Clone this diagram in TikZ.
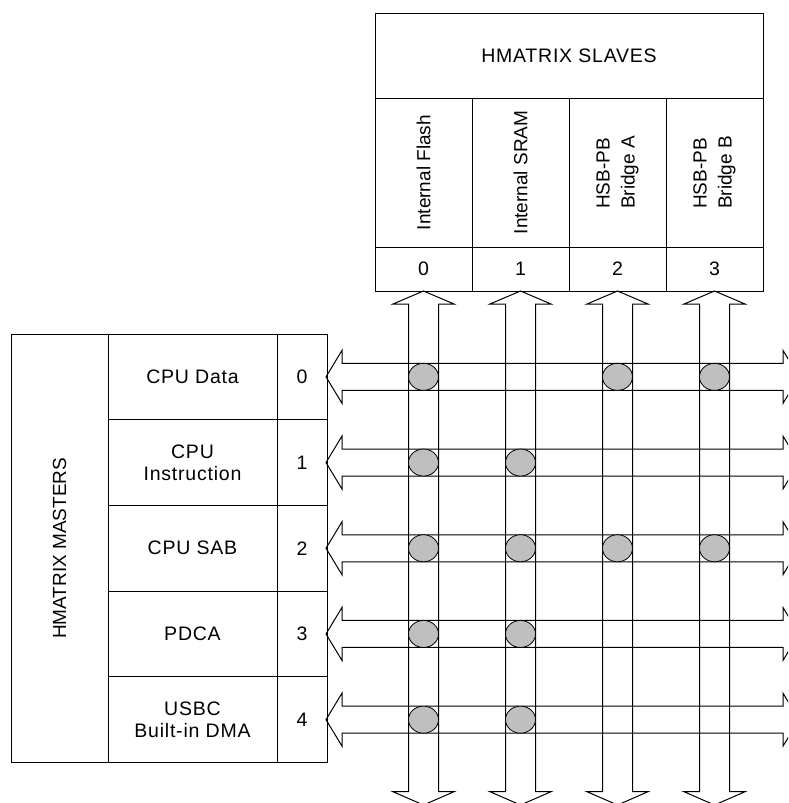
\documentclass[tikz,border=0pt]{standalone}
\usepackage{fontspec}
\setmainfont[LetterSpace=4]{Liberation Sans}
\newfontfamily\vertfont{Liberation Sans}
\begin{document}
\begin{tikzpicture}[x=1pt,y=-1pt,
  every node/.style={font=\fontsize{19.5}{22.5}\selectfont, inner sep=0pt, outer sep=0pt},
  box/.style={draw, line width=1pt},
  rtext/.style={rotate=90, align=left, font=\vertfont\fontsize{19}{25}\selectfont},
  ctext/.style={align=center},
  bus/.style={draw, line width=1pt, line join=miter},
  hit/.style={draw, line width=0.8pt, fill=black!25}
]
\useasboundingbox (0,0) rectangle (788,803);
\clip (0,0) rectangle (788,803);

% ---------- slaves ----------
\node[box, minimum width=388pt, minimum height=85pt] (shdr) at (569,55.5) {};
\node (shdrt) at (shdr) {HMATRIX SLAVES};
\foreach \i/\lab in {0/{Internal Flash},1/{Internal SRAM},2/{HSB-PB\\Bridge A},3/{HSB-PB\\Bridge B}} {
  \node[box, minimum width=97pt, minimum height=149pt] (s\i) at ({423.5+97*\i},172.5) {};
  \node[rtext] (s\i t) at (s\i) {\lab};
  \node[box, minimum width=97pt, minimum height=44pt] (s\i n) at ({423.5+97*\i},269) {\i};
}

% ---------- masters ----------
\node[box, minimum width=97pt, minimum height=428.5pt] (mlab) at (59.5,548.25) {};
\node[rtext] (mlabt) at (mlab) {HMATRIX MASTERS};
\foreach \j/\lab in {0/{CPU Data},1/{CPU\\Instruction},2/{CPU SAB},3/{PDCA},4/{USBC\\Built-in DMA}} {
  \node[box, minimum width=169pt, minimum height=85.7pt] (m\j) at (192.5,{334+85.7*(\j+0.5)}) {};
  \node[ctext] (m\j t) at (m\j) {\lab};
  \node[box, minimum width=50pt, minimum height=85.7pt] (m\j n) at (302,{334+85.7*(\j+0.5)}) {\j};
}

% ---------- vertical (slave) buses ----------
\foreach \i in {0,1,2,3} {
  \pgfmathsetmacro{\cx}{423.5+97*\i}
  \draw[bus] (\cx,291) -- ++(-30.5,13) -- ++(15.5,0) -- (\cx-15,791.7)
    -- ++(-15.5,0) -- (\cx,805) -- (\cx+30.5,791.7) -- ++(-15.5,0)
    -- (\cx+15,304) -- ++(15.5,0) -- cycle;
}

% ---------- horizontal (master) buses ----------
\foreach \j in {0,1,2,3,4} {
  \pgfmathsetmacro{\cy}{334+85.7*(\j+0.5)}
  \draw[bus] (326,\cy) -- (342,\cy-26.5) -- (342,\cy-13.5) -- (783,\cy-13.5)
    -- (783,\cy-26.5) -- (799,\cy) -- (783,\cy+26.5) -- (783,\cy+13.5)
    -- (342,\cy+13.5) -- (342,\cy+26.5) -- cycle;
}

% ---------- connections ----------
\foreach \j/\i in {0/0,0/2,0/3,1/0,1/1,2/0,2/1,2/2,2/3,3/0,3/1,4/0,4/1} {
  \path[hit] ({423.5+97*\i},{334+85.7*(\j+0.5)}) ellipse [x radius=15, y radius=13.5];
}
\end{tikzpicture}
\end{document}
